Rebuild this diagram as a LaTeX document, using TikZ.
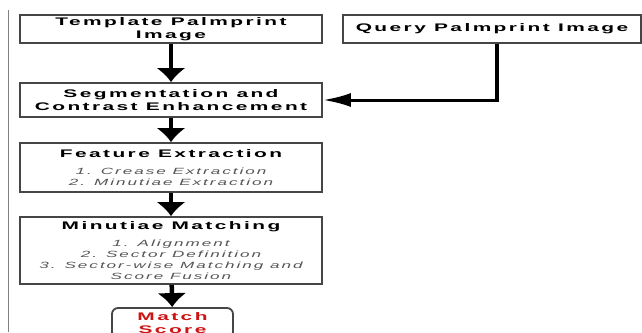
\documentclass[tikz,border=0pt]{standalone}
\usepackage{fontspec}
\usetikzlibrary{arrows.meta}
\newfontfamily\wideface[FakeStretch=1.9,LetterSpace=22]{Liberation Sans}
\definecolor{boxline}{RGB}{70,70,70}
\definecolor{itemgray}{RGB}{85,85,85}
\definecolor{scorered}{RGB}{205,20,20}
\newcommand{\titletext}{\wideface\bfseries\fontsize{11}{13}\selectfont}
\newcommand{\itemtext}{\wideface\mdseries\itshape\fontsize{9}{11}\selectfont\color{itemgray}}

\begin{document}
\begin{tikzpicture}[x=1pt,y=-1pt,
  stage/.style={draw=boxline,line width=1.8pt,fill=white,align=center,inner sep=0pt,
    minimum width=302pt,font=\titletext},
  flow/.style={line width=4.5pt,-{Latex[length=14pt,width=30pt]}},
  sideflow/.style={line width=3pt,-{Latex[length=28pt,width=14pt]}}]
  \useasboundingbox (0,0) rectangle (642,332);
  \clip (0,0) rectangle (642,332);
  \draw[gray,line width=1pt] (8,10) -- (8,332);
  \node[stage,minimum height=28pt] (tmpl) at (171,29)
    {Template Palmprint\\Image};
  \node[stage,minimum width=298pt,minimum height=28pt] (query) at (492,29)
    {Query Palmprint Image};
  \node[stage,minimum height=34pt] (seg) at (171,100)
    {Segmentation and\\Contrast Enhancement};
  \node[stage,minimum height=49pt] (feat) at (171,167.5)
    {Feature Extraction\\[4pt]
     \itemtext 1. Crease Extraction\\[-2pt]\itemtext 2. Minutiae Extraction};
  \node[stage,minimum height=67pt] (minu) at (171,250.5)
    {Minutiae Matching\\[4pt]
     \itemtext 1. Alignment\\[-2pt]\itemtext 2. Sector Definition\\[-2pt]
     \itemtext 3. Sector-wise Matching and\\[-2pt]\itemtext Score Fusion};
  \node[stage,rounded corners=6pt,minimum width=121pt,minimum height=30pt,text=scorered] (score) at (172.5,323)
    {Match\\Score};
  \coordinate (qturn) at (497,100);
  \draw[flow] (tmpl) -- (seg);
  \draw[line width=4.5pt] (query.south -| qturn) -- ([yshift=1.5pt]qturn);
  \draw[sideflow] ([xshift=2.25pt]qturn) -- (seg.east);
  \draw[flow] (seg) -- (feat);
  \draw[flow] (feat) -- (minu);
  \draw[flow] (minu) -- (score);
\end{tikzpicture}
\end{document}
